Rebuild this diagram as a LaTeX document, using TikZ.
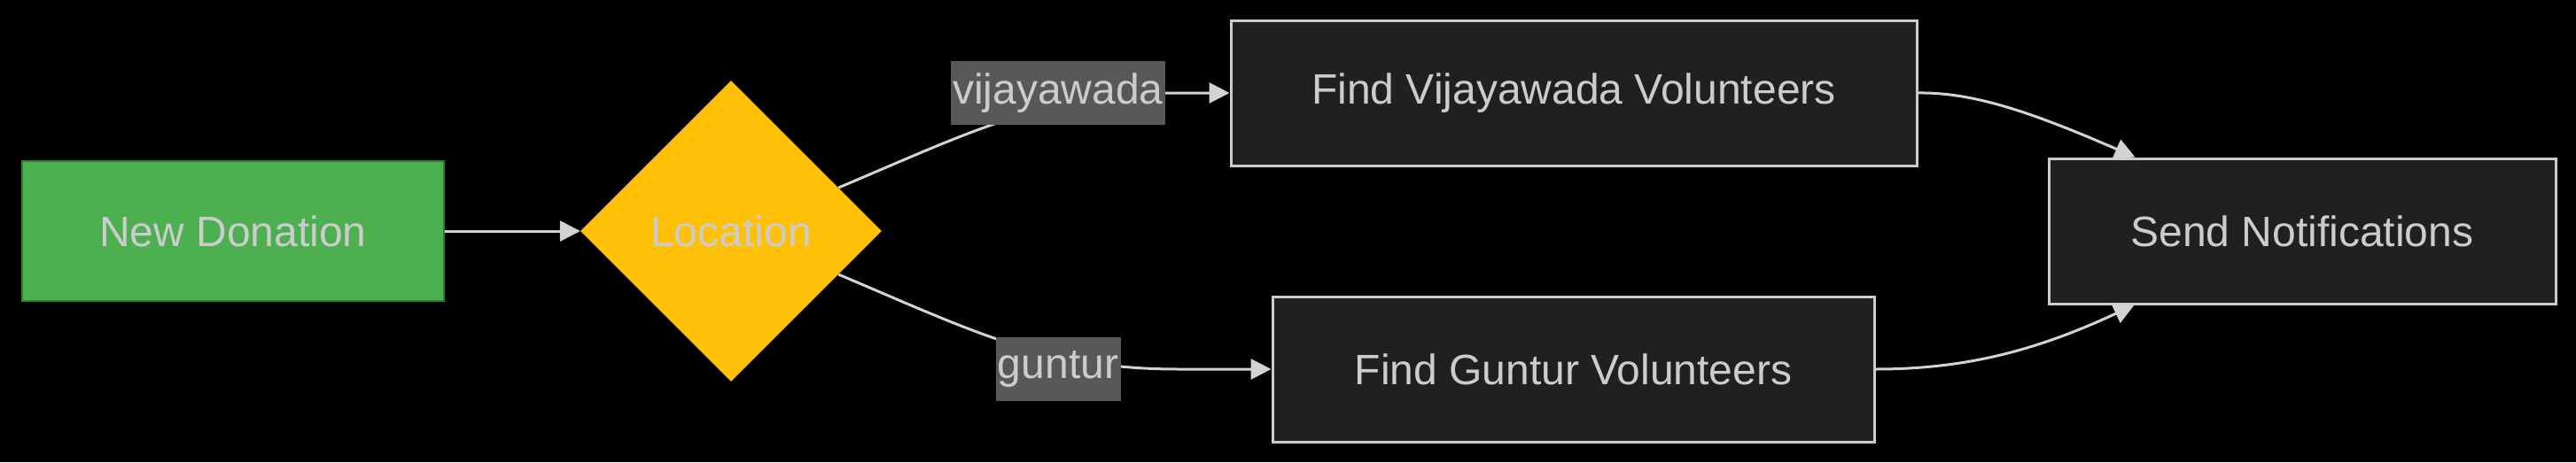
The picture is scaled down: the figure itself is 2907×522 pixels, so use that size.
\documentclass[tikz,border=0pt]{standalone}
\usepackage{fontspec}
\setmainfont{Liberation Sans}
\usetikzlibrary{shapes.geometric,arrows.meta}
\definecolor{txt}{HTML}{CCCCCC}
\definecolor{boxfill}{HTML}{1F2020}
\definecolor{boxline}{HTML}{CCCCCC}
\definecolor{greenfill}{HTML}{4CAF50}
\definecolor{greenline}{HTML}{2E7D32}
\definecolor{yellowfill}{HTML}{FFC107}
\definecolor{lblfill}{HTML}{585858}
\definecolor{edgec}{HTML}{D3D3D3}
\begin{document}
\begin{tikzpicture}[x=1pt,y=-1pt,
 every node/.style={font=\fontsize{48}{57}\selectfont, text=txt, inner sep=0pt},
 procbox/.style={rectangle, draw=boxline, fill=boxfill, line width=3pt, minimum height=164pt},
 startbox/.style={rectangle, fill=greenfill, draw=greenline, line width=1.5pt, minimum width=476pt, minimum height=158pt},
 decision/.style={diamond, fill=yellowfill, minimum width=340pt, minimum height=340pt},
 edgelabel/.style={rectangle, fill=lblfill, minimum height=72pt},
 flow/.style={draw=edgec, line width=3pt, -{Triangle[length=23pt,width=23pt]}}
]
\fill[black] (0,0) rectangle (2907,522);
\useasboundingbox (0,0) rectangle (2907,522);

\node[startbox] (nd) at (263,261) {New Donation};
\node[decision] (loc) at (825,261) {Location};
\node[procbox, minimum width=774pt] (fv) at (1776,105) {Find Vijayawada Volunteers};
\node[procbox, minimum width=679pt] (fg) at (1775.5,417) {Find Guntur Volunteers};
\node[procbox, minimum width=572pt] (sn) at (2598,261) {Send Notifications};
\coordinate (snt) at ([xshift=99pt]sn.north west);
\coordinate (snb) at ([xshift=98pt]sn.south west);

\draw[flow] (nd.east) -- (loc.west);
\draw[flow] (loc.22) .. controls (1100,147) and (1180,105) .. (1330,105) -- (fv.west);
\draw[flow] (loc.-22) .. controls (1100,375) and (1180,417) .. (1330,417) -- (fg.west);
\draw[flow] (fv.east) .. controls (2230,104) and (2300,130) .. (snt);
\draw[flow] (fg.east) .. controls (2220,417) and (2300,395) .. (snb);

\node[edgelabel, minimum width=242pt] (lv) at (1194,105) {vijayawada};
\node[edgelabel, minimum width=141pt] (lg) at (1194,417) {guntur};
\end{tikzpicture}
\end{document}
